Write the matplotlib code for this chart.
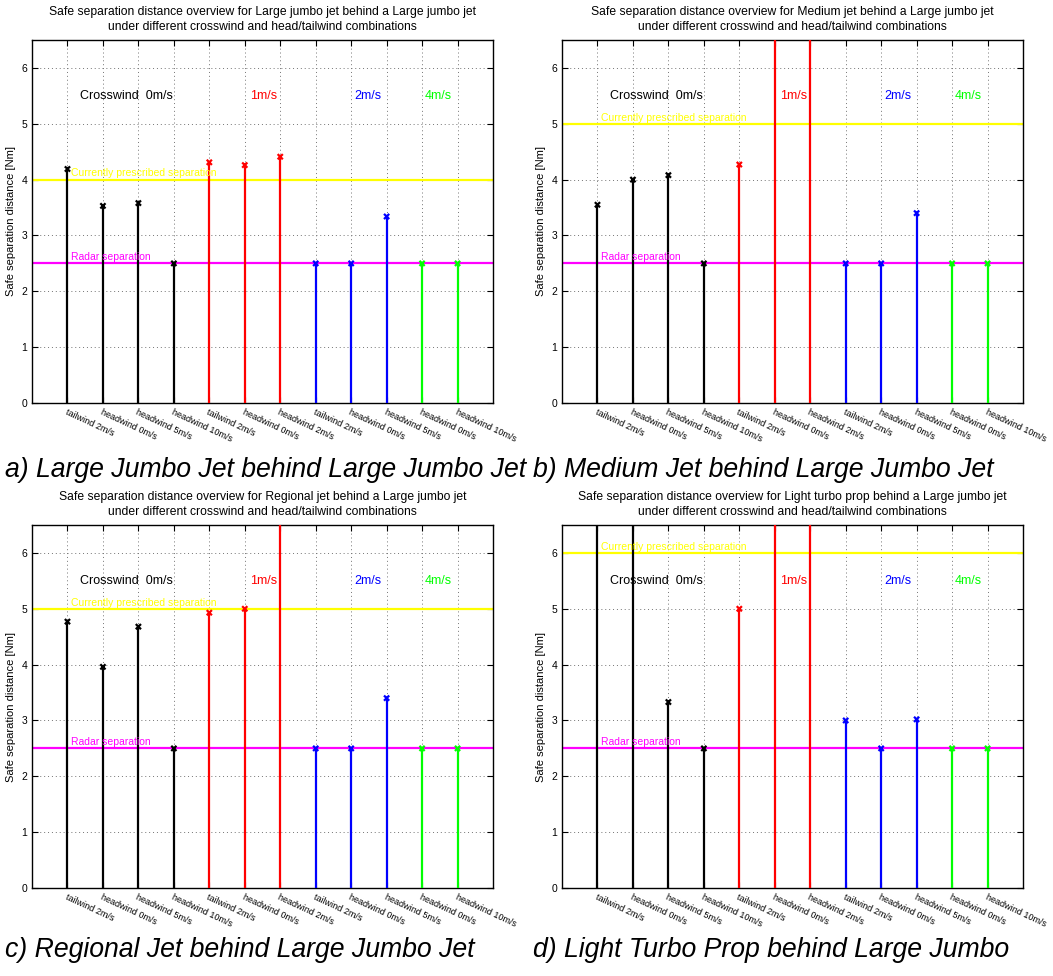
import numpy as np
import matplotlib
matplotlib.use("Agg")
import matplotlib.pyplot as plt

plt.rcParams['font.family'] = ['Liberation Sans', 'DejaVu Sans']

# Wind condition labels (one per stem)
tick_labels = ["tailwind 2m/s", "headwind 0m/s", "headwind 5m/s", "headwind 10m/s",
               "tailwind 2m/s", "headwind 0m/s", "headwind 2m/s",
               "tailwind 2m/s", "headwind 0m/s", "headwind 5m/s",
               "headwind 0m/s", "headwind 10m/s"]
# crosswind group per stem: 0, 1, 2, 4 m/s
crosswind_group = [0, 0, 0, 0, 1, 1, 1, 2, 2, 2, 4, 4]
group_colors = {0: "black", 1: "red", 2: "blue", 4: "#00ff00"}

# Safe separation distances [Nm]; 10.0 marks values beyond the plotted range
sep_large_jumbo = [4.19, 3.53, 3.58, 2.5, 4.31, 4.26, 4.41, 2.5, 2.5, 3.34, 2.5, 2.5]
sep_medium_jet = [3.55, 4.0, 4.08, 2.5, 4.27, 10.0, 10.0, 2.5, 2.5, 3.4, 2.5, 2.5]
sep_regional_jet = [4.77, 3.96, 4.68, 2.5, 4.93, 5.0, 10.0, 2.5, 2.5, 3.4, 2.5, 2.5]
sep_light_turboprop = [10.0, 10.0, 3.33, 2.5, 5.0, 10.0, 10.0, 3.0, 2.5, 3.02, 2.5, 2.5]

prescribed = [4.0, 5.0, 5.0, 6.0]
radar_sep = 2.5

aircraft = ["Large jumbo jet", "Medium jet", "Regional jet", "Light turbo prop"]
captions = ["a) Large Jumbo Jet behind Large Jumbo Jet",
            "b) Medium Jet behind Large Jumbo Jet",
            "c) Regional Jet behind Large Jumbo Jet",
            "d) Light Turbo Prop behind Large Jumbo"]
series = [sep_large_jumbo, sep_medium_jet, sep_regional_jet, sep_light_turboprop]

W, H = 1053, 976
fig = plt.figure(figsize=(W / 100, H / 100), dpi=100)

# axes boxes in pixels: left, top, right, bottom
boxes = [(32, 40, 493, 403), (562, 40, 1023, 403),
         (32, 525, 493, 888), (562, 525, 1023, 888)]
caption_pos = [(5, 470), (533, 470), (5, 950), (533, 950)]

x = np.arange(1, len(tick_labels) + 1)

for i, (vals, box) in enumerate(zip(series, boxes)):
    l, t, r, b = box
    ax = fig.add_axes([l / W, 1 - b / H, (r - l) / W, (b - t) / H])
    colors = [group_colors[g] for g in crosswind_group]
    ax.vlines(x, 0, vals, colors=colors, lw=1.6, zorder=3)
    ax.scatter(x, vals, marker='x', c=colors, s=14, linewidths=1.6, zorder=4)

    ax.axhline(prescribed[i], color=(1, 1, 0), lw=1.6, zorder=2)
    ax.axhline(radar_sep, color=(1, 0, 1), lw=1.6, zorder=2)
    ax.text(1.1, prescribed[i] + 0.02, "Currently prescribed separation",
            color=(1, 1, 0), fontsize=7.5, va='bottom', ha='left')
    ax.text(1.1, radar_sep + 0.02, "Radar separation",
            color=(1, 0, 1), fontsize=7.5, va='bottom', ha='left')

    ax.text(1.35, 5.5, "Crosswind  0m/s", color="black", fontsize=9, va='center')
    ax.text(6.15, 5.5, "1m/s", color="red", fontsize=9, va='center')
    ax.text(9.1, 5.5, "2m/s", color="blue", fontsize=9, va='center')
    ax.text(11.07, 5.5, "4m/s", color="#00ff00", fontsize=9, va='center')

    ax.set_xlim(0, 13)
    ax.set_ylim(0, 6.5)
    ax.set_yticks(range(7))
    ax.set_xticks(x)
    ax.set_xticklabels(tick_labels, rotation=-25, ha='left', va='top',
                       rotation_mode='anchor', fontsize=6.5)
    ax.tick_params(axis='y', labelsize=7.5)
    ax.tick_params(direction='in', top=True, right=True, length=4, width=0.8)
    ax.grid(True, linestyle=(0, (1, 3)), color='0.45', lw=0.7)
    ax.set_axisbelow(True)
    for sp in ax.spines.values():
        sp.set_linewidth(1.0)
    ax.set_ylabel("Safe separation distance [Nm]", fontsize=8)
    ax.set_title("Safe separation distance overview for %s behind a Large jumbo jet\n"
                 "under different crosswind and head/tailwind combinations" % aircraft[i],
                 fontsize=8.7, linespacing=1.35, pad=7)

    cx, cy = caption_pos[i]
    fig.text(cx / W, 1 - cy / H, captions[i], fontsize=19.2, style='italic',
             ha='left', va='center')

fig.savefig("out.png", dpi=100)
